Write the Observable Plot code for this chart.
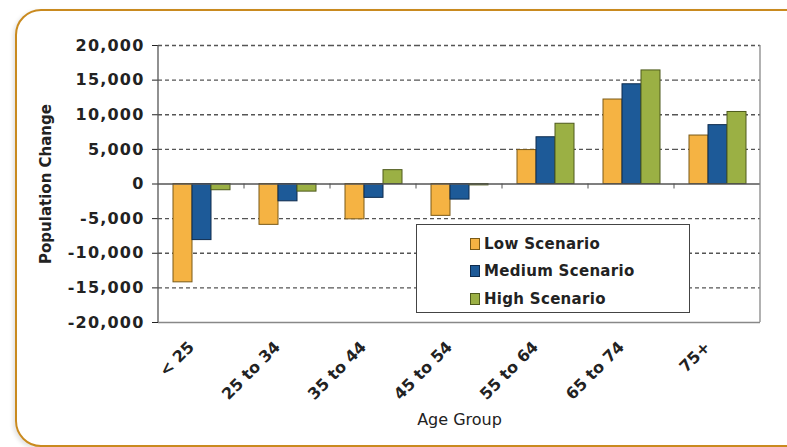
<!DOCTYPE html>
<html><head><meta charset="utf-8">
<script src="https://cdn.jsdelivr.net/npm/d3@7"></script>
<script src="https://cdn.jsdelivr.net/npm/@observablehq/plot@0.6"></script>
<style>
body{margin:0;background:#fff;}
#wrap{position:relative;width:787px;height:447px;overflow:hidden;font-family:"DejaVu Sans",sans-serif;background:#fff;}
#border{position:absolute;left:15px;top:9px;width:800px;height:434px;border:2.5px solid #c98a1f;border-radius:26px;box-shadow:-2px 2px 4px rgba(0,0,0,0.12);}
#chart{position:absolute;left:0;top:0;}
#legend{position:absolute;left:416px;top:224px;width:274px;height:89px;border:1.5px solid #444;background:#fff;box-sizing:border-box;padding:5px 0 0 53px;}
.row{display:flex;align-items:center;height:27.5px;font-weight:bold;font-size:15px;letter-spacing:0.3px;color:#222;}
.sw{width:10px;height:12px;margin-right:4px;box-sizing:border-box;border:1px solid;}
</style>
</head><body>
<div id="wrap"><div id="border"></div><div id="chart"></div><div id="legend"></div></div>
<script>
const ages = ["< 25","25 to 34","35 to 44","45 to 54","55 to 64","65 to 74","75+"];
const scenarios = ["Low Scenario","Medium Scenario","High Scenario"];
const lowValues = [-14200,-5900,-5100,-4600,4900,12200,7000];
const mediumValues = [-8100,-2500,-2000,-2250,6750,14400,8500];
const highValues = [-900,-1100,2000,-200,8700,16400,10400];
const yTicks = [-20000,-15000,-10000,-5000,0,5000,10000,15000,20000];
const fills = ["#f5b343","#1d5a98","#9bb044"];
const strokes = ["#7a5a18","#0e2b4d","#4e5a1c"];

const series = [lowValues, mediumValues, highValues];
const data = [];
scenarios.forEach((s, i) => ages.forEach((a, j) => data.push({age: a, scenario: s, value: series[i][j]})));

const chart = Plot.plot({
  width: 787, height: 447,
  marginLeft: 158, marginRight: 27, marginTop: 45, marginBottom: 125,
  style: {fontFamily: "DejaVu Sans", fontSize: "15px", fontWeight: "bold", color: "#222", background: "transparent"},
  fx: {domain: ages, padding: 0, label: "Age Group", labelAnchor: "center", labelOffset: 102, tickRotate: -45, tickSize: 0, tickPadding: 20},
  x: {domain: scenarios, paddingInner: 0, paddingOuter: 0.73, axis: null},
  y: {domain: [-20000, 20000], ticks: yTicks, tickFormat: d => d.toLocaleString("en-US"), tickSize: 6, tickPadding: 8, label: "Population Change", labelAnchor: "center", labelOffset: 118},
  marks: [
    Plot.ruleY(yTicks.filter(t => t !== 0 && t !== -20000), {stroke: "#555", strokeWidth: 1.3, strokeDasharray: "4,3"}),
    Plot.ruleY([-20000], {stroke: "#888", strokeWidth: 1.3}),
    ...scenarios.map((s, i) => Plot.barY(data.filter(d => d.scenario === s), {fx: "age", x: "scenario", y: "value", fill: fills[i], stroke: strokes[i], strokeWidth: 1})),
    Plot.ruleY([0], {stroke: "#555", strokeWidth: 1.5})
  ]
});
document.getElementById("chart").appendChild(chart);

const svg = d3.select(chart);
const fx = chart.scale("fx"), y = chart.scale("y");
const left = fx.apply(ages[0]), right = fx.apply(ages[ages.length-1]) + fx.bandwidth;
const yTop = y.apply(20000), yBot = y.apply(-20000), y0 = y.apply(0);
svg.append("line").attr("x1", left).attr("x2", left).attr("y1", yTop).attr("y2", yBot).attr("stroke", "#555").attr("stroke-width", 1.3);
svg.append("line").attr("x1", right).attr("x2", right).attr("y1", yTop).attr("y2", yBot).attr("stroke", "#888").attr("stroke-width", 1.3);
ages.slice(1).forEach(a => {
  const bx = fx.apply(a);
  svg.append("line").attr("x1", bx).attr("x2", bx).attr("y1", y0).attr("y2", y0 + 5).attr("stroke", "#555").attr("stroke-width", 1);
});
svg.selectAll("text").each(function(){
  const t = this.textContent;
  if (/Population Change/.test(t) || /Age Group/.test(t)) {
    d3.select(this).selectAll("tspan").size() ? d3.select(this).selectAll("tspan").text(function(){return this.textContent.replace(/\s*[→↑←↓]\s*/g, "");}) : d3.select(this).text(t.replace(/\s*[→↑←↓]\s*/g, ""));
  }
  if (/Age Group/.test(t)) d3.select(this).attr("font-weight", "normal").attr("font-size", 16);
});
svg.selectAll('g[aria-label="y-axis tick label"]').attr("font-size", 16).attr("letter-spacing", 1.2);
svg.selectAll('g[aria-label="fx-axis tick label"]').attr("font-size", 16).attr("transform", function(){ return (this.getAttribute("transform") || "") + " translate(-10,2)"; });

const legend = d3.select("#legend");
scenarios.forEach((s, i) => {
  const r = legend.append("div").attr("class", "row");
  r.append("div").attr("class", "sw").style("background", fills[i]).style("border-color", strokes[i]);
  r.append("span").text(s);
});
</script>
</body></html>
